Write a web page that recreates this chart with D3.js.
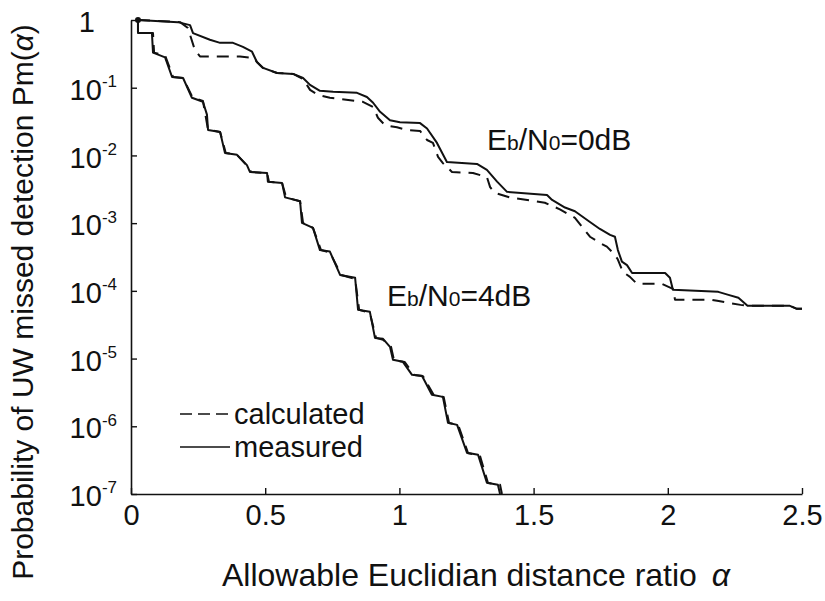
<!DOCTYPE html>
<html>
<head>
<meta charset="utf-8">
<script src="https://cdn.jsdelivr.net/npm/d3@7"></script>
<style>
  body { margin: 0; background: #fff; }
  text { font-family: "Liberation Sans", Arial, sans-serif; fill: #111; }
</style>
</head>
<body>
<svg id="chart" width="825" height="601"></svg>
<script>
// tick values
const xTicks = [0, 0.5, 1, 1.5, 2, 2.5];
const yTicks = [1, 1e-1, 1e-2, 1e-3, 1e-4, 1e-5, 1e-6, 1e-7];

// Eb/No = 0dB, measured (solid)
const alpha0dBMeasured = [0.026, 0.175, 0.220, 0.231, 0.294, 0.332, 0.380, 0.417, 0.451, 0.469, 0.492, 0.544, 0.604, 0.641, 0.667, 0.704, 0.753, 0.842, 0.879, 0.902, 0.928, 0.965, 1.002, 1.077, 1.103, 1.140, 1.177, 1.289, 1.326, 1.364, 1.401, 1.550, 1.569, 1.617, 1.654, 1.710, 1.747, 1.785, 1.803, 1.814, 1.829, 1.848, 1.867, 1.990, 2.008, 2.019, 2.188, 2.226, 2.263, 2.297, 2.455, 2.481, 2.500];
const pm0dBMeasured = [1.0, 0.93, 0.84, 0.64, 0.51, 0.46, 0.46, 0.40, 0.34, 0.24, 0.196, 0.165, 0.160, 0.139, 0.110, 0.090, 0.087, 0.084, 0.073, 0.060, 0.044, 0.033, 0.031, 0.030, 0.025, 0.0153, 0.0080, 0.0075, 0.0061, 0.0041, 0.0029, 0.0026, 0.0022, 0.0017, 0.0015, 0.00104, 0.00082, 0.00067, 0.00063, 0.00040, 0.00027, 0.00024, 0.000184, 0.000184, 0.000156, 0.000104, 0.0000967, 0.0000873, 0.0000789, 0.0000601, 0.0000601, 0.0000542, 0.0000542];

// Eb/No = 0dB, calculated (dashed)
const alpha0dBCalc = [0.026, 0.183, 0.212, 0.238, 0.257, 0.406, 0.458, 0.469, 0.492, 0.544, 0.604, 0.641, 0.667, 0.697, 0.741, 0.864, 0.902, 0.920, 0.946, 0.991, 1.028, 1.077, 1.103, 1.125, 1.144, 1.162, 1.196, 1.274, 1.326, 1.338, 1.356, 1.412, 1.542, 1.598, 1.654, 1.710, 1.747, 1.773, 1.803, 1.814, 1.833, 1.859, 1.885, 1.978, 2.019, 2.027, 2.165, 2.184, 2.226, 2.271, 2.297, 2.455, 2.481, 2.500];
const pm0dBCalc = [1.0, 0.93, 0.76, 0.36, 0.29, 0.29, 0.275, 0.24, 0.196, 0.165, 0.160, 0.135, 0.093, 0.078, 0.071, 0.062, 0.052, 0.036, 0.028, 0.026, 0.0238, 0.023, 0.0169, 0.0153, 0.0095, 0.0077, 0.0057, 0.0055, 0.0048, 0.0034, 0.0028, 0.0024, 0.0020, 0.0016, 0.0012, 0.00063, 0.00051, 0.00045, 0.00034, 0.00029, 0.00019, 0.000161, 0.000127, 0.000127, 0.000107, 0.0000737, 0.0000737, 0.0000712, 0.0000665, 0.0000621, 0.0000601, 0.0000601, 0.0000542, 0.0000542];

// Eb/No = 4dB, measured (solid)
const alpha4dBMeasured = [0.026, 0.026, 0.078, 0.082, 0.127, 0.153, 0.194, 0.227, 0.268, 0.283, 0.287, 0.332, 0.350, 0.395, 0.432, 0.443, 0.507, 0.510, 0.563, 0.574, 0.630, 0.637, 0.678, 0.704, 0.741, 0.779, 0.835, 0.846, 0.890, 0.909, 0.939, 0.965, 0.976, 1.013, 1.047, 1.084, 1.121, 1.162, 1.181, 1.215, 1.252, 1.293, 1.326, 1.367, 1.375];
const pm4dBMeasured = [1.0, 0.64, 0.64, 0.33, 0.28, 0.144, 0.139, 0.071, 0.062, 0.040, 0.0238, 0.0222, 0.0109, 0.0102, 0.0072, 0.0057, 0.0055, 0.0041, 0.0039, 0.0024, 0.0021, 0.00101, 0.00085, 0.00040, 0.00038, 0.000172, 0.000156, 0.0000525, 0.0000490, 0.0000202, 0.0000196, 0.0000149, 9.6e-6, 8.95e-6, 5.75e-6, 5.56e-6, 2.92e-6, 2.72e-6, 1.13e-6, 1.05e-6, 4.06e-7, 3.79e-7, 1.47e-7, 1.37e-7, 1e-7];

// Eb/No = 4dB, calculated (dashed)
const alpha4dBCalc = [0.026, 0.026, 0.082, 0.086, 0.127, 0.157, 0.194, 0.230, 0.268, 0.287, 0.332, 0.353, 0.395, 0.440, 0.447, 0.507, 0.514, 0.563, 0.578, 0.630, 0.641, 0.678, 0.708, 0.741, 0.783, 0.835, 0.850, 0.890, 0.913, 0.939, 0.969, 0.980, 1.020, 1.055, 1.088, 1.128, 1.165, 1.185, 1.219, 1.256, 1.300, 1.330, 1.375, 1.382];
const pm4dBCalc = [1.0, 0.64, 0.64, 0.33, 0.30, 0.144, 0.139, 0.071, 0.064, 0.024, 0.0222, 0.0109, 0.0102, 0.0065, 0.0057, 0.0055, 0.0041, 0.0039, 0.0024, 0.0021, 0.00101, 0.00085, 0.00040, 0.00037, 0.000172, 0.000150, 0.0000525, 0.0000470, 0.0000202, 0.0000190, 0.0000149, 9.4e-6, 8.9e-6, 5.7e-6, 5.5e-6, 2.9e-6, 2.7e-6, 1.12e-6, 1.05e-6, 4.0e-7, 3.7e-7, 1.45e-7, 1.37e-7, 1e-7];

const INK = '#111';
const svg = d3.select('#chart');

const x = d3.scaleLinear().domain([0, 2.5]).range([131, 802]);
const y = d3.scaleLog().domain([1e-7, 1]).range([494, 20]).clamp(true);

const zip = (a, p) => a.map((v, i) => [v, p[i]]);
const line = d3.line().x(d => x(d[0])).y(d => y(d[1]));

// axes: inward ticks, no box
const gx = svg.append('g')
  .attr('transform', `translate(0,${y(1e-7)})`)
  .call(d3.axisBottom(x).tickValues(xTicks).tickSize(-6).tickSizeOuter(0)
    .tickPadding(10).tickFormat(d3.format('')));
gx.selectAll('.tick text').attr('font-size', 29).attr('dy', '0.72em');

const gy = svg.append('g')
  .attr('transform', `translate(${x(0)},0)`)
  .call(d3.axisLeft(y).tickValues(yTicks).tickSize(-6).tickSizeOuter(0)
    .tickPadding(20).tickFormat(() => ''));
gy.selectAll('.tick text').each(function (d) {
  const t = d3.select(this).attr('font-size', 29).attr('dy', '0.4em').attr('x', -14);
  const e = Math.round(Math.log10(d));
  if (e === 0) {
    t.attr('x', -36).text('1');
  } else {
    t.append('tspan').text('10');
    t.append('tspan').attr('font-size', 17).attr('dy', '-0.75em').text(String(e));
  }
});
svg.selectAll('.domain').attr('stroke', INK).attr('stroke-width', 1.6);
svg.selectAll('.tick line').attr('stroke', INK).attr('stroke-width', 1.4);

// curves
const series = [
  { a: alpha0dBMeasured, p: pm0dBMeasured, dash: null },
  { a: alpha0dBCalc, p: pm0dBCalc, dash: '12,8' },
  { a: alpha4dBMeasured, p: pm4dBMeasured, dash: null },
  { a: alpha4dBCalc, p: pm4dBCalc, dash: '12,8' },
];
svg.append('g').selectAll('path')
  .data(series)
  .join('path')
  .attr('d', s => line(zip(s.a, s.p)))
  .attr('fill', 'none')
  .attr('stroke', INK)
  .attr('stroke-width', 2)
  .attr('stroke-linejoin', 'round')
  .attr('stroke-dasharray', s => s.dash);

// start dot shared by the curves
svg.append('circle')
  .attr('cx', x(alpha0dBMeasured[0]))
  .attr('cy', y(pm0dBMeasured[0]))
  .attr('r', 3)
  .attr('fill', INK);

// curve labels
const ebLabel = (px, py, db) => {
  const t = svg.append('text').attr('x', px).attr('y', py).attr('font-size', 30);
  t.append('tspan').text('E');
  t.append('tspan').attr('font-size', 21).text('b');
  t.append('tspan').text('/N');
  t.append('tspan').attr('font-size', 21).text('0');
  t.append('tspan').text(`=${db}dB`);
};
ebLabel(487, 150, 0);
ebLabel(387, 306, 4);

// legend
const legend = svg.append('g');
[['calculated', '12,6', 414, 424], ['measured', null, 447, 457]].forEach(([name, dash, ly, ty]) => {
  legend.append('line')
    .attr('x1', 180).attr('x2', 230).attr('y1', ly).attr('y2', ly)
    .attr('stroke', INK).attr('stroke-width', 1.6)
    .attr('stroke-dasharray', dash);
  legend.append('text').attr('x', 234).attr('y', ty).attr('font-size', 29).text(name);
});

// axis titles
const xt = svg.append('text').attr('x', 476).attr('y', 586)
  .attr('text-anchor', 'middle').attr('font-size', 32);
xt.append('tspan').text('Allowable Euclidian distance ratio ');
xt.append('tspan').attr('font-style', 'italic').attr('dx', 6).text('α');

const yt = svg.append('text')
  .attr('transform', 'translate(33,302) rotate(-90)')
  .attr('text-anchor', 'middle').attr('font-size', 30);
yt.append('tspan').text('Probability of UW missed detection Pm(');
yt.append('tspan').attr('font-style', 'italic').text('α');
yt.append('tspan').text(')');
</script>
</body>
</html>
